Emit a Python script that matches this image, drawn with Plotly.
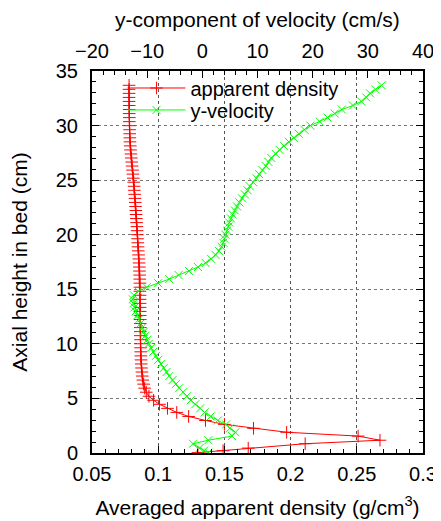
import plotly.graph_objects as go

# Axial height (cm) of each sampled cell
heights = [0.03, 0.21, 0.45, 0.85, 1.17, 1.55, 1.90, 2.26, 2.62, 2.98,
           3.35, 3.72, 4.09, 4.46, 4.83, 5.20, 5.57, 5.94, 6.31, 6.68,
           7.05, 7.42, 7.79, 8.16, 8.53, 8.90, 9.27, 9.64, 10.01, 10.38,
           10.75, 11.12, 11.49, 11.86, 12.23, 12.60, 12.97, 13.34, 13.71, 14.08,
           14.45, 14.82, 15.19, 15.56, 15.93, 16.30, 16.67, 17.04, 17.41, 17.78,
           18.15, 18.52, 18.89, 19.26, 19.63, 20.00, 20.37, 20.74, 21.11, 21.48,
           21.85, 22.22, 22.59, 22.96, 23.33, 23.70, 24.07, 24.44, 24.81, 25.18,
           25.55, 25.92, 26.29, 26.66, 27.03, 27.40, 27.77, 28.14, 28.51, 28.88,
           29.25, 29.62, 29.99, 30.36, 30.73, 31.10, 31.47, 31.84, 32.21, 32.58,
           32.95, 33.32, 33.69]

# Averaged apparent density (g/cm^3)
density = [0.130, 0.149, 0.168, 0.211, 0.2675, 0.251, 0.197, 0.172, 0.150, 0.1357,
           0.123, 0.114, 0.107, 0.101, 0.0965, 0.093, 0.091, 0.0898, 0.0890, 0.0884,
           0.0880, 0.0877, 0.0874, 0.0872, 0.0870, 0.0869, 0.0868, 0.0867, 0.0866, 0.0866,
           0.0865, 0.0865, 0.0865, 0.0864, 0.0864, 0.0864, 0.0864, 0.0863, 0.0863, 0.0863,
           0.0863, 0.0862, 0.0862, 0.0862, 0.0861, 0.0860, 0.0859, 0.0858, 0.0856, 0.0854,
           0.0852, 0.0850, 0.0848, 0.0846, 0.0844, 0.0843, 0.0841, 0.0839, 0.0837, 0.0835,
           0.0833, 0.0831, 0.0829, 0.0827, 0.0825, 0.0822, 0.0820, 0.0818, 0.0815, 0.0812,
           0.0809, 0.0806, 0.0803, 0.0800, 0.0797, 0.0794, 0.0791, 0.0789, 0.0787, 0.0786,
           0.0785, 0.0784, 0.0783, 0.0782, 0.0782, 0.0781, 0.0781, 0.0781, 0.0780, 0.0780,
           0.0780, 0.0780, 0.0780]

# y-component of velocity (cm/s)
velocity = [1.1, 0.3, -0.5, -1.7, 1.1, 5.4, 6.0, 5.0, 4.3, 2.8,
            1.5, 0.4, -0.4, -1.3, -2.1, -2.8, -3.5, -4.2, -4.8, -5.4,
            -6.0, -6.5, -7.0, -7.5, -8.0, -8.4, -8.9, -9.3, -9.7, -10.0,
            -10.3, -10.6, -10.9, -11.2, -11.5, -11.8, -12.1, -12.3, -12.5, -12.6,
            -12.4, -11.6, -10.1, -8.0, -6.0, -4.3, -2.4, -0.8, 0.6, 1.6,
            2.4, 3.0, 3.5, 3.8, 4.0, 4.2, 4.5, 4.7, 4.9, 5.2,
            5.5, 5.9, 6.3, 6.7, 7.2, 7.7, 8.2, 8.6, 9.2, 9.8,
            10.3, 10.9, 11.5, 12.0, 12.5, 13.3, 14.0, 14.8, 15.7, 16.6,
            17.5, 18.5, 19.6, 21.3, 22.7, 24.0, 25.3, 27.3, 28.8, 29.7,
            30.4, 31.4, 32.5]

FONT = "Liberation Sans, Arial, Helvetica, sans-serif"

fig = go.Figure()
fig.add_trace(go.Scatter(
    x=density, y=heights, name="apparent density", mode="lines+markers",
    line=dict(color="#ff0000", width=1),
    marker=dict(symbol="cross-thin", size=9, color="#ff0000",
                line=dict(color="#ff0000", width=1)),
    xaxis="x", yaxis="y", legend="legend"))
fig.add_trace(go.Scatter(
    x=velocity, y=heights, name="y-velocity", mode="lines+markers",
    line=dict(color="#00ff00", width=1),
    marker=dict(symbol="x-thin", size=8, color="#00ff00",
                line=dict(color="#00ff00", width=1)),
    xaxis="x2", yaxis="y", legend="legend2"))

common = dict(showline=True, linecolor="black", linewidth=2, ticks="inside",
              ticklen=7, tickwidth=1, tickcolor="black", zeroline=False,
              tickfont=dict(family=FONT, size=20, color="black"))

leg = dict(xanchor="left", yanchor="middle", bgcolor="rgba(0,0,0,0)",
           borderwidth=0, font=dict(family=FONT, size=20, color="black"),
           itemwidth=58)

fig.update_layout(
    width=433, height=513, autosize=False,
    margin=dict(l=84, r=18, t=63, b=68, pad=0),
    paper_bgcolor="white", plot_bgcolor="white",
    font=dict(family=FONT, size=20, color="black"),
    xaxis=dict(range=[0.05, 0.3], dtick=0.05, tick0=0.05, side="bottom",
               showgrid=True, gridcolor="#555555", griddash="dot", gridwidth=1,
               minor=dict(dtick=0.01, ticks="inside", ticklen=4, tickcolor="black", showgrid=False),
               ticklabelstandoff=2,
               title=dict(text="Averaged apparent density (g/cm<sup>3</sup>)",
                          font=dict(family=FONT, size=21), standoff=16),
               automargin=False, **common),
    xaxis2=dict(range=[-20, 40], dtick=10, tick0=0, side="top", overlaying="x",
                showgrid=False,
                minor=dict(dtick=2, ticks="inside", ticklen=4, tickcolor="black", showgrid=False),
                ticklabelstandoff=3,
                title=dict(text="y-component of velocity (cm/s)",
                           font=dict(family=FONT, size=21), standoff=10),
                automargin=False, **common),
    yaxis=dict(range=[0, 35], dtick=5, tick0=0, mirror="ticks",
               showgrid=True, gridcolor="#777777", griddash="dot", gridwidth=1,
               minor=dict(dtick=1, ticks="inside", ticklen=4, tickcolor="black", showgrid=False),
               ticklabelstandoff=8,
               title=dict(text="Axial height in bed (cm)",
                          font=dict(family=FONT, size=21), standoff=32),
               automargin=False, **common),
    legend=dict(x=0.092, y=0.9555, **leg),
    legend2=dict(x=0.092, y=0.898, **leg),
    showlegend=True,
)

fig.write_html("out.html")
